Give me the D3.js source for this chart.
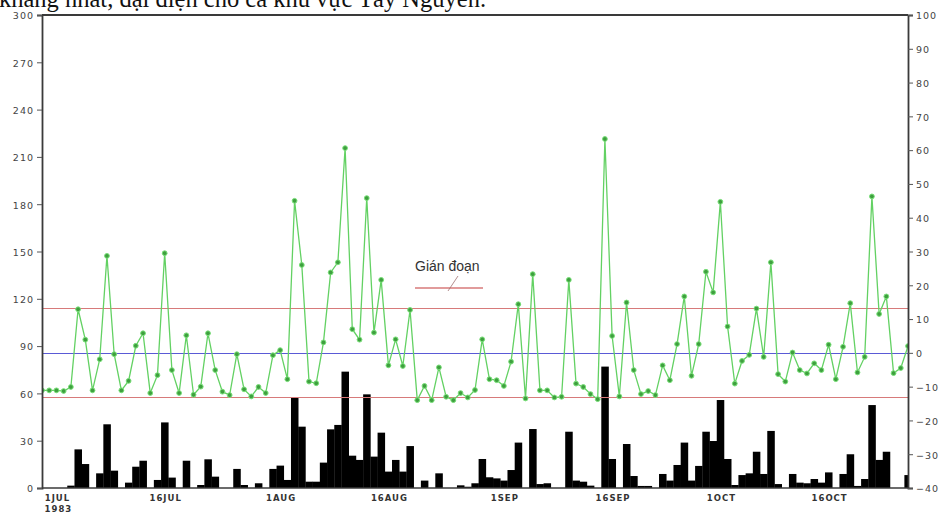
<!DOCTYPE html>
<html>
<head>
<meta charset="utf-8">
<script src="https://cdn.jsdelivr.net/npm/d3@7"></script>
<style>
  html, body { margin: 0; padding: 0; background: #fff; overflow: hidden; }
  svg { display: block; }
</style>
</head>
<body>
<svg id="chart" width="945" height="516"></svg>
<script>
// Daily series, 29 Jun 1983 - 27 Oct 1983 (one value per day)
const startDate = "1983-06-29";

// Daily rainfall (mm), left axis
const rainfall = [
  0, 0, 0, 0, 1.5, 24.5, 15.2, 0, 9.3, 40.4, 11.0, 0, 3.4, 13.5, 17.3, 0, 5.1, 41.6, 6.6, 0,
  17.3, 0, 1.9, 18.2, 7.2, 0, 0, 12.1, 1.9, 0, 3.0, 0, 12.1, 14.2, 5.1, 57.5, 38.9, 4.0, 4.0, 16.1,
  37.2, 40.0, 73.8, 20.5, 17.8, 59.4, 19.9, 35.1, 10.4, 17.8, 10.4, 26.6, 0, 4.7, 0, 9.3, 0, 0, 1.7, 0.8,
  3.0, 18.4, 6.8, 6.1, 4.7, 11.4, 28.8, 0, 37.4, 2.5, 3.0, 0, 0, 35.7, 4.7, 4.0, 1.5, 0, 77.0, 18.4,
  0, 27.9, 7.6, 1.3, 1.3, 0, 8.9, 4.7, 14.6, 28.8, 4.7, 14.0, 35.7, 29.8, 55.8, 18.4, 1.9, 8.2, 9.3, 23.0,
  8.9, 36.2, 2.5, 0, 8.9, 3.4, 3.0, 5.7, 3.4, 9.9, 0, 8.9, 21.4, 1.3, 5.7, 52.6, 17.8, 23.0, 0, 0,
  8.2
];

// Daily index (right axis)
const index = [
  -11.1, -11.1, -11.1, -11.3, -10.1, 12.9, 3.9, -11.1, -1.9, 28.7, -0.4, -11.1, -8.3, 2.1, 5.8, -11.9, -6.6, 29.5, -5.1, -11.9,
  5.2, -12.4, -10.0, 5.8, -5.1, -11.5, -12.5, -0.4, -10.8, -12.9, -10.1, -11.9, -0.7, 0.8, -7.8, 45.0, 26.0, -8.5, -9.0, 3.1,
  23.8, 26.8, 60.6, 7.0, 3.9, 45.8, 6.0, 21.6, -3.7, 4.0, -3.9, 12.7, -14.0, -9.8, -14.0, -4.3, -13.0, -14.0, -11.9, -13.2,
  -11.0, 4.0, -7.8, -8.1, -9.8, -2.6, 14.4, -13.5, 23.3, -11.1, -11.1, -13.2, -13.0, 21.6, -9.1, -10.1, -12.2, -13.7, 63.3, 5.0,
  -12.9, 14.9, -5.1, -12.2, -11.3, -12.5, -3.7, -8.1, 2.6, 16.7, -6.8, 2.6, 24.0, 17.9, 44.7, 7.8, -9.1, -2.4, -0.6, 13.1,
  -1.2, 26.8, -6.3, -8.5, 0.1, -5.1, -6.1, -3.1, -5.1, 2.4, -7.8, 1.8, 14.7, -5.8, -1.2, 46.3, 11.5, 16.7, -6.0, -4.5,
  2.0
];

// Reference levels on the index axis: upper threshold, zero, lower threshold
const upperLevel = 13.2;
const zeroLevel = 0;
const lowerLevel = -13.2;

// Axis ticks
const leftTicks = [0, 30, 60, 90, 120, 150, 180, 210, 240, 270, 300];
const rightTicks = [-40, -30, -20, -10, 0, 10, 20, 30, 40, 50, 60, 70, 80, 90, 100];
const xTickDates = ["1983-07-01", "1983-07-16", "1983-08-01", "1983-08-16", "1983-09-01", "1983-09-16", "1983-10-01", "1983-10-16"];
const xTickLabels = [["1JUL", "1983"], ["16JUL"], ["1AUG"], ["16AUG"], ["1SEP"], ["16SEP"], ["1OCT"], ["16OCT"]];

const legendLabel = "Gián đoạn";
const headingText = "khăng nhất, đại diện cho cả khu vực Tây Nguyên.";

// ---------------------------------------------------------------
const svg = d3.select("#chart");
const margin = { left: 42, right: 37, top: 15, bottom: 28 };
const W = 945, H = 516;
const x0 = margin.left, x1 = W - margin.right;
const y0 = margin.top, y1 = H - margin.bottom;

const parse = d3.utcParse("%Y-%m-%d");
const start = parse(startDate);
const dates = index.map((_, i) => d3.utcDay.offset(start, i));

const x = d3.scaleUtc()
  .domain([dates[0], dates[dates.length - 1]])
  .range([x0, x1]);
const dayWidth = x(dates[1]) - x(dates[0]);

const yLeft = d3.scaleLinear().domain([0, 300]).range([y1, y0]);
const yRight = d3.scaleLinear().domain([-40, 100]).range([y1, y0]);

// Partial caption line above the chart (runs off the top edge)
svg.append("text")
  .attr("x", -1).attr("y", 7)
  .attr("font-family", "'Liberation Serif', 'Times New Roman', serif")
  .attr("font-size", 24.5)
  .attr("fill", "#111")
  .text(headingText);

svg.append("clipPath").attr("id", "plotclip")
  .append("rect").attr("x", x0).attr("y", y0).attr("width", x1 - x0).attr("height", y1 - y0);

const plot = svg.append("g").attr("clip-path", "url(#plotclip)");

// Rainfall bars
plot.append("g").selectAll("rect")
  .data(rainfall.map((v, i) => ({ d: dates[i], v })).filter(p => p.v > 0))
  .join("rect")
  .attr("x", p => x(p.d) - dayWidth / 2)
  .attr("width", dayWidth + 0.3)
  .attr("y", p => yLeft(p.v))
  .attr("height", p => yLeft(0) - yLeft(p.v))
  .attr("fill", "#000");

// Reference levels
const levels = [
  { v: upperLevel, c: "#d77a7a" },
  { v: zeroLevel, c: "#5a5ad6" },
  { v: lowerLevel, c: "#d77a7a" }
];
plot.append("g").selectAll("line")
  .data(levels)
  .join("line")
  .attr("x1", x0).attr("x2", x1)
  .attr("y1", l => Math.round(yRight(l.v)) + 0.5)
  .attr("y2", l => Math.round(yRight(l.v)) + 0.5)
  .attr("stroke", l => l.c)
  .attr("stroke-width", 1.2);

// Index line with markers
const pts = index.map((v, i) => ({ d: dates[i], v }));
plot.append("path")
  .datum(pts)
  .attr("fill", "none")
  .attr("stroke", "#63d163")
  .attr("stroke-width", 1.3)
  .attr("d", d3.line().x(p => x(p.d)).y(p => yRight(p.v)));

plot.append("g").selectAll("circle")
  .data(pts)
  .join("circle")
  .attr("cx", p => x(p.d))
  .attr("cy", p => yRight(p.v))
  .attr("r", 2.4)
  .attr("fill", "#3f9f3f")
  .attr("stroke", "#78e078")
  .attr("stroke-width", 1);

// Frame
const frame = svg.append("g").attr("stroke", "#3a3a3a").attr("fill", "none");
frame.append("line").attr("x1", x0).attr("x2", x1).attr("y1", y0).attr("y2", y0).attr("stroke-width", 2);
frame.append("line").attr("x1", x0).attr("x2", x1).attr("y1", y1).attr("y2", y1).attr("stroke-width", 1.6);

// Axes
const tickFont = "'DejaVu Sans', Verdana, sans-serif";

const leftAxis = svg.append("g")
  .attr("transform", `translate(${x0},0)`)
  .call(d3.axisLeft(yLeft).tickValues(leftTicks).tickSize(5).tickPadding(3));
const rightAxis = svg.append("g")
  .attr("transform", `translate(${x1},0)`)
  .call(d3.axisRight(yRight).tickValues(rightTicks).tickSize(5).tickPadding(3));

[leftAxis, rightAxis].forEach(g => {
  g.select(".domain").attr("stroke", "#3a3a3a").attr("stroke-width", 1.8);
  g.selectAll(".tick line").attr("stroke", "#555").attr("stroke-width", 1);
  g.selectAll(".tick text")
    .attr("font-family", tickFont)
    .attr("font-size", 9.5)
    .attr("letter-spacing", 1)
    .attr("fill", "#444");
});
leftAxis.selectAll(".tick text").attr("dy", "0.4em");
rightAxis.selectAll(".tick text").attr("dy", "0.4em");

// Date axis labels
const xLab = svg.append("g")
  .attr("font-family", tickFont)
  .attr("font-size", 8.5)
  .attr("font-weight", "bold")
  .attr("letter-spacing", 1)
  .attr("fill", "#333")
  .attr("text-anchor", "middle");
xTickDates.forEach((ds, i) => {
  const t = xLab.append("text")
    .attr("x", x(parse(ds)) + 1)
    .attr("y", y1 + 13);
  xTickLabels[i].forEach((line, j) => {
    t.append("tspan")
      .attr("x", x(parse(ds)) + 1 + (j > 0 ? 1 : 0))
      .attr("dy", j === 0 ? 0 : 10.5)
      .text(line);
  });
});

// Legend entry for the red reference lines
const legX = 415, legY = 288;
svg.append("text")
  .attr("x", legX).attr("y", 271)
  .attr("font-family", "'Liberation Sans', Arial, sans-serif")
  .attr("font-size", 14)
  .attr("fill", "#333")
  .text(legendLabel);
svg.append("line")
  .attr("x1", legX).attr("x2", legX + 68)
  .attr("y1", legY).attr("y2", legY)
  .attr("stroke", "#d77a7a").attr("stroke-width", 1.3);
svg.append("line")
  .attr("x1", legX + 33).attr("y1", legY + 3)
  .attr("x2", legX + 43).attr("y2", legY - 12)
  .attr("stroke", "#a07070").attr("stroke-width", 0.8);
</script>
</body>
</html>
